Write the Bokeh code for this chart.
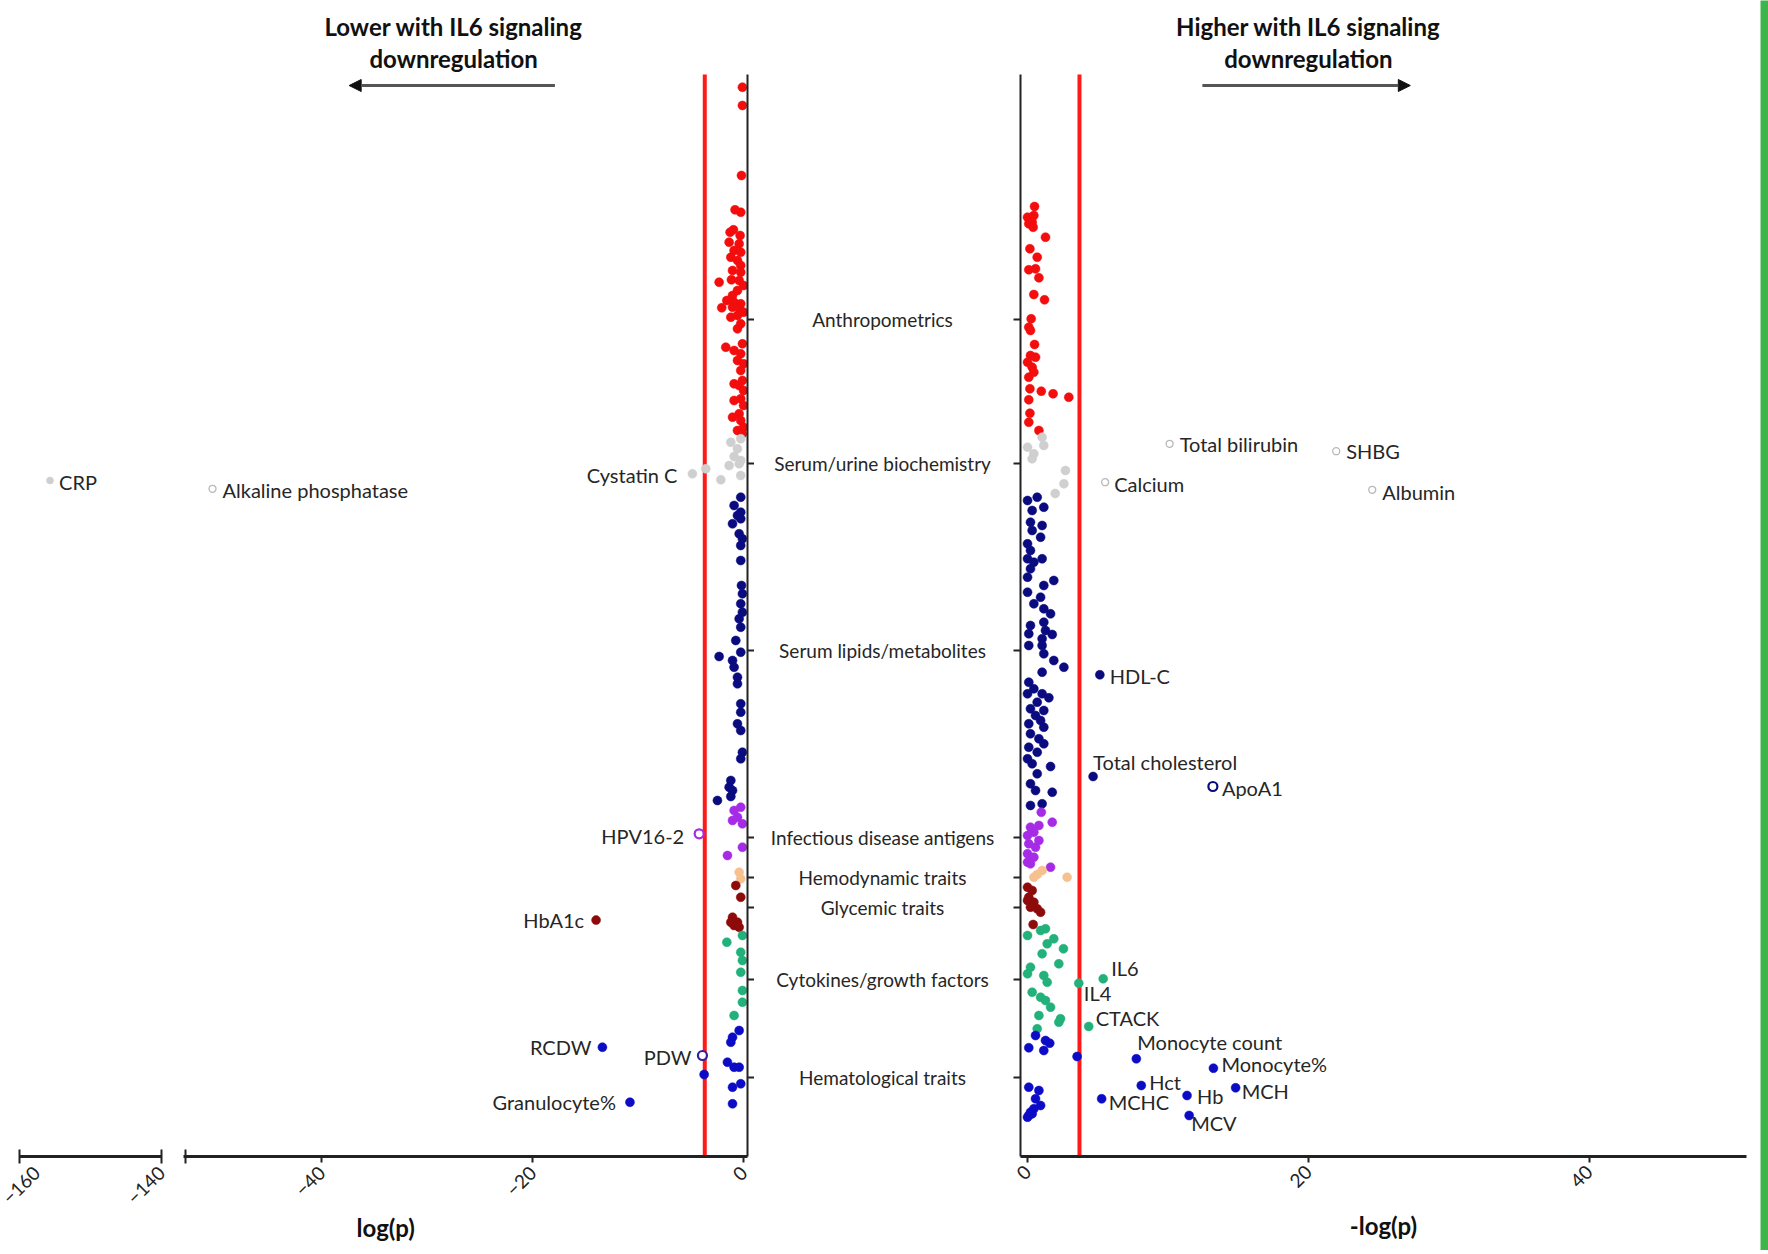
import math
from bokeh.plotting import figure
from bokeh.models import Range1d, FixedTicker, LinearAxis, Label, Arrow, NormalHead, ColumnDataSource, Title
from bokeh.layouts import row
from bokeh.embed import file_html
from bokeh.resources import INLINE
from bokeh.core.properties import value

# ---------------- data ----------------
CATEGORIES = ["Anthropometrics", "Serum/urine biochemistry", "Serum lipids/metabolites",
              "Infectious disease antigens", "Hemodynamic traits", "Glycemic traits",
              "Cytokines/growth factors", "Hematological traits"]
CAT_KEYS = ["anthro", "bio", "lipid", "inf", "hemo", "gly", "cyto", "hema"]
# position of each category tick along the trait-order axis (0 = top)
CATEGORY_POS = [245, 389, 576, 763, 803, 833, 905, 1003]

THRESHOLD = 3.7          # significance threshold, -log10(p)
ORDER_TOP, ORDER_BOTTOM = 0, 1082
HEADER_TOP = -74

# left panel: log(p) of traits lower with IL6 signalling downregulation
anthro_left_logp = [-0.13, -0.13, -0.22, -0.29, -0.83, -1.30, -0.98, -0.35, -1.39, -0.44, -0.92, -0.29, -1.23, -0.60,
                    -0.29, -1.07, -0.29, -2.34, -1.17, -0.44, -0.02, -0.60, -1.07, -1.61, -0.92, -0.29, -2.09, -1.07,
                    -0.35, -0.02, -0.60, -1.23, -0.29, -0.60, -1.71, -0.92, -0.13, -0.29, -0.60, -0.02, -0.29, -0.13,
                    -0.92, -0.44, -0.02, -0.29, -0.92, -0.02, -0.44, -1.07, -0.29, -0.02, -0.60, -0.13]
anthro_left_pos = [12.7, 31, 101, 137.7, 135.3, 157.7, 155.3, 161, 167.7, 169.3, 176, 177.7, 182.7, 186, 191, 196,
                   197.7, 207.7, 205.3, 206, 211, 216, 221, 226, 227.7, 229.3, 233.3, 232.7, 235.3, 237.7, 241, 242.7,
                   249.3, 254.3, 272.7, 276, 269.3, 279.3, 286, 289.3, 296, 306, 309.3, 311, 316, 324.3, 326, 331,
                   339.3, 342.7, 346, 352.7, 356, 359.3]
bio_left_logp = [-1.23, -0.29, -0.60, -0.92, -0.29, -1.39, -0.44, -0.29, -2.18, -3.60]
bio_left_pos = [367.7, 364.3, 374.3, 382, 386, 391, 389.3, 401, 405.3, 394.3]
lipid_left_logp = [-0.29, -0.92, -0.29, -0.60, -1.07, -0.29, -0.44, -0.13, -0.29, -0.29, -0.22, -0.13, -0.29, -0.13,
                   -0.44, -0.29, -0.76, -0.29, -2.34, -1.07, -0.92, -0.60, -0.60, -0.29, -0.29, -0.60, -0.29, -0.13,
                   -0.29, -1.23, -1.39, -1.07, -2.50, -1.23]
lipid_left_pos = [422.7, 431, 437.7, 441, 449.3, 444.3, 459.3, 464.3, 471, 486, 511, 519.3, 529.3, 537.7, 544.3,
                  552.7, 566, 577.7, 582, 586, 592.7, 602.7, 609.3, 629.3, 637.7, 649.3, 656, 677.7, 684.3, 706,
                  712.7, 716, 726, 722]
inf_left_logp = [-0.92, -0.29, -0.60, -0.13, -1.07, -0.13, -1.55]
inf_left_pos = [736, 732.7, 742.7, 749.3, 746, 772.7, 781]
hemo_left_logp = [-0.44, -0.29]
hemo_left_pos = [797.7, 804.3]
gly_left_logp = [-0.76, -0.29, -1.07, -0.60, -0.92, -0.44, -1.23]
gly_left_pos = [811, 822.7, 842.7, 847.7, 851, 852.7, 847.7]
cyto_left_logp = [-0.13, -1.61, -0.29, -0.13, -0.29, -0.13, -0.13, -0.92]
cyto_left_pos = [861, 867.7, 877.7, 886, 897.7, 916, 927.7, 941]
hema_left_logp = [-0.44, -1.07, -1.23, -1.55, -0.92, -0.44, -0.29, -1.07, -1.07, -3.76]
hema_left_pos = [956, 962.7, 967.7, 987.7, 992.7, 992.7, 1009.3, 1012.7, 1029.3, 1000]

# right panel: -log(p) of traits higher with IL6 signalling downregulation
anthro_right_mlogp = [0.50, 0.0, 0.21, 0.45, 0.09, 0.33, 0.40, 1.28, 0.17, 0.69, 0.09, 0.57, 0.81, 0.45, 1.21, 0.26,
                      0.09, 0.21, 0.50, 0.21, 0.57, 0.0, 0.33, 0.45, 0.09, 0.17, 0.98, 1.82, 2.94, 0.09, 0.17, 0.09,
                      0.81]
anthro_right_pos = [132, 142.7, 144.3, 141, 149.3, 147.7, 152.7, 162.7, 174.3, 182.7, 195.3, 194.3, 203.3, 220,
                    225.3, 244.3, 252.7, 256, 270, 281, 282.7, 287.7, 292.7, 297.7, 302.7, 314.3, 316.7, 319.3,
                    322.7, 325.3, 338.7, 347.7, 356]
bio_right_mlogp = [0.0, 0.45, 1.16, 1.04, 0.33, 2.70, 2.59, 1.97]
bio_right_pos = [372.7, 379.3, 371, 362.7, 384.3, 396, 409.3, 419]
lipid_right_mlogp = [0.0, 0.69, 1.16, 0.33, 0.21, 1.04, 0.33, 0.93, 0.0, 0.21, 1.04, 0.0, 0.45, 0.21, 0.0, 1.87,
                     1.16, 0.0, 0.93, 0.45, 1.16, 1.64, 0.21, 1.16, 1.28, 0.09, 1.76, 1.04, 0.09, 1.04, 1.16, 1.87,
                     2.59, 1.04, 0.09, 0.45, 0.0, 1.04, 1.52, 0.69, 0.21, 1.16, 0.57, 0.93, 0.09, 1.16, 0.21, 0.81,
                     1.16, 0.09, 0.69, 0.0, 0.33, 1.64, 0.69, 0.21, 0.57, 1.76, 0.21, 1.04]
lipid_right_pos = [426, 422.7, 432.7, 436, 447.7, 451, 456, 462.7, 469.3, 476, 484.3, 484.3, 487.7, 494.3, 502.7,
                   506, 511, 517.7, 522.7, 529.3, 534.3, 539.3, 551, 547.7, 556, 559.3, 560, 564.3, 571, 571, 579.3,
                   586, 592.7, 597.7, 607.7, 614.3, 619.3, 619.3, 623.3, 627.7, 634.3, 636, 641, 646, 649.3, 652.7,
                   659.3, 664.3, 669.3, 672.7, 677.7, 684.3, 689.3, 692, 699.3, 709.3, 716, 717.7, 731, 729.3]
inf_right_mlogp = [0.98, 1.76, 0.21, 0.81, 0.45, 0.0, 0.81, 0.09, 0.57, 0.0, 0.45, 0.0, 0.21, 1.64]
inf_right_pos = [737.7, 747.7, 752.7, 751, 757.7, 761, 766, 769.3, 772.7, 779.3, 782.7, 787.7, 789.3, 792.7]
hemo_right_mlogp = [0.45, 1.04, 2.82, 0.69]
hemo_right_pos = [802.7, 796, 802.7, 800]
gly_right_mlogp = [0.0, 0.33, 0.09, 0.0, 0.45, 0.69, 0.93, 0.21, 0.40]
gly_right_pos = [812.7, 816, 822.7, 826, 827.7, 834.3, 837.7, 832.7, 850]
cyto_right_mlogp = [0.0, 0.93, 1.28, 1.40, 1.87, 2.56, 1.04, 2.23, 0.21, 0.0, 1.16, 1.40, 0.33, 0.93, 1.28, 1.64,
                    0.81, 2.35, 2.23, 0.69]
cyto_right_pos = [861, 856, 854.3, 869.3, 864.3, 874.3, 879.3, 889.3, 892.7, 899.3, 901, 907.7, 917.7, 922.7, 926,
                  932.7, 941, 944.3, 947.7, 954.3]
hema_right_mlogp = [0.57, 1.28, 1.58, 0.09, 1.16, 3.53, 0.09, 0.81, 0.57, 0.93, 0.45, 0.21, 0.0, 0.09, 0.33]
hema_right_pos = [961, 966, 968.7, 973.3, 976, 982, 1012.7, 1016, 1024.3, 1031, 1034.3, 1037.7, 1042.7, 1041, 1039.3]

# labelled traits
LABELED_NAMES = ["CRP", "Alkaline phosphatase", "Cystatin C", "HPV16-2", "HbA1c", "RCDW", "PDW", "Granulocyte%",
                 "Total bilirubin", "SHBG", "Calcium", "Albumin", "HDL-C", "Total cholesterol", "ApoA1",
                 "IL6", "IL4", "CTACK", "Monocyte count", "Monocyte%", "Hct", "MCH", "Hb", "MCHC", "MCV"]
LABELED_PANEL = ["break", "left", "left", "left", "left", "left", "left", "left",
                 "right", "right", "right", "right", "right", "right", "right",
                 "right", "right", "right", "right", "right", "right", "right", "right", "right", "right"]
LABELED_CAT = ["bio", "bio", "bio", "inf", "gly", "hema", "hema", "hema",
               "bio", "bio", "bio", "bio", "lipid", "lipid", "lipid",
               "cyto", "cyto", "cyto", "hema", "hema", "hema", "hema", "hema", "hema", "hema"]
LABELED_VALUE = [-155.7, -50.35, -4.87, -4.23, -14.0, -13.4, -3.92, -10.79,
                 10.12, 21.98, 5.53, 24.55, 5.15, 4.67, 13.2,
                 5.39, 3.65, 4.36, 7.75, 13.24, 8.1, 14.82, 11.36, 5.28, 11.51]
LABELED_POS = [406, 414.3, 399.3, 759.3, 845.6, 972.7, 981, 1027.7,
               369.3, 376.7, 407.7, 415.3, 600.3, 702, 712,
               904.3, 908.7, 952, 984.3, 993.7, 1011, 1013.3, 1021, 1024.3, 1041]
LABELED_OPEN = [False, True, False, True, False, False, True, False,
                True, True, True, True, False, False, True,
                False, False, False, False, False, False, False, False, False, False]

# ---------------- styles ----------------
CAT_COLORS = {"anthro": "#f30d0d", "bio": "#cfcfcf", "lipid": "#0b0b80", "inf": "#a62be6",
              "hemo": "#f7c18f", "gly": "#8e0b0b", "cyto": "#22b07b", "hema": "#0c0cc6"}
OPEN_COLORS = {"bio": "#b8b8b8", "inf": "#a62be6", "hema": "#34209a", "lipid": "#0b0b80"}
# text label placement: (align, x offset px, y offset px)
LABEL_STYLE = {
    "CRP": ("left", 9, 1), "Alkaline phosphatase": ("left", 10, 1), "Cystatin C": ("right", -15, 1),
    "HPV16-2": ("right", -15, 2), "HbA1c": ("right", -12, 0), "RCDW": ("right", -11, 0),
    "PDW": ("right", -11, 1), "Granulocyte%": ("right", -14, 0),
    "Total bilirubin": ("left", 10, 0), "SHBG": ("left", 10, 0), "Calcium": ("left", 9, 2),
    "Albumin": ("left", 10, 2), "HDL-C": ("left", 10, 1), "Total cholesterol": ("left", 0, -15),
    "ApoA1": ("left", 9, 1), "IL6": ("left", 8, -11), "IL4": ("left", 5, 10), "CTACK": ("left", 7, -9),
    "Monocyte count": ("left", 1, -17), "Monocyte%": ("left", 8, -4), "Hct": ("left", 8, -4),
    "MCH": ("left", 6, 3), "Hb": ("left", 10, 0), "MCHC": ("left", 7, 3), "MCV": ("left", 2, 7),
}
FONT = "Lato"
AXIS_COLOR = "#222222"
TEXT_COLOR = "#262626"
FRAME_H = 1156
BOTTOM_BORDER = 94

y_range = Range1d(ORDER_BOTTOM, HEADER_TOP)


def base_fig(frame_w, xr, mbl, mbr, with_x_axis=True):
    p = figure(frame_width=frame_w, frame_height=FRAME_H, x_range=Range1d(*xr), y_range=y_range, title=None,
               output_backend="svg", toolbar_location=None,
               x_axis_location="below" if with_x_axis else None, y_axis_location=None,
               min_border_left=mbl, min_border_right=mbr, min_border_top=0,
               min_border_bottom=BOTTOM_BORDER, outline_line_color=None,
               background_fill_color="white", border_fill_color="white")
    p.grid.visible = False
    if with_x_axis:
        ax = p.xaxis[0]
        ax.axis_line_width = 3
        ax.axis_line_color = AXIS_COLOR
        ax.major_tick_line_width = 2
        ax.major_tick_line_color = AXIS_COLOR
        ax.minor_tick_line_width = 2
        ax.minor_tick_line_color = AXIS_COLOR
        ax.major_tick_in = 0
        ax.major_tick_out = 6
        ax.minor_tick_in = 0
        ax.minor_tick_out = 0
        ax.major_label_orientation = math.pi / 4
        ax.major_label_text_font = FONT
        ax.major_label_text_font_size = "19px"
        ax.major_label_text_color = AXIS_COLOR
        ax.major_label_standoff = 6
    return p


def category_axis():
    return LinearAxis(ticker=FixedTicker(ticks=CATEGORY_POS), bounds=(ORDER_TOP, ORDER_BOTTOM),
                      major_tick_in=0, major_tick_out=7, minor_tick_in=0, minor_tick_out=0,
                      major_label_overrides={t: "" for t in CATEGORY_POS}, major_label_standoff=0,
                      axis_line_width=2, axis_line_color=AXIS_COLOR,
                      major_tick_line_width=2, major_tick_line_color=AXIS_COLOR)


# broken-axis segment (far left)
pA = base_fig(142, (-160, -140), 19, 22)
pA.xaxis.ticker = FixedTicker(ticks=[-160, -140])
pA.xaxis.major_tick_in = 7
pA.xaxis.major_tick_out = 7

# left main panel
pB = base_fig(564, (-53.1, 0.35), 0, 0)
pB.xaxis.ticker = FixedTicker(ticks=[-40, -20, 0], minor_ticks=[-52.95])
pB.xaxis.minor_tick_in = 7
pB.xaxis.minor_tick_out = 7
pB.add_layout(category_axis(), "right")
# axis title centred under the whole (broken) left axis
pB.add_layout(Title(text="log(p)", align="left", offset=173, standoff=10, text_font=FONT,
                    text_font_style="bold", text_font_size="24px", text_color="#111111"), "below")

# middle band with category labels
pM = base_fig(252, (0, 1), 2, 0, with_x_axis=False)
pM.text(x=[0.5] * len(CATEGORIES), y=CATEGORY_POS, text=CATEGORIES, text_align="center",
        text_baseline="middle", text_font=value(FONT), text_font_size="19px", text_color=TEXT_COLOR)

# right panel
pC = base_fig(726, (-0.5, 51.2), 12, 14)
pC.add_layout(category_axis(), "left")
pC.xaxis.ticker = FixedTicker(ticks=[0, 20, 40])
pC.xaxis.axis_label = "-log(p)"
pC.xaxis.axis_label_text_font = FONT
pC.xaxis.axis_label_text_font_style = "bold"
pC.xaxis.axis_label_text_font_size = "24px"
pC.xaxis.axis_label_text_color = "#111111"
pC.xaxis.axis_label_standoff = 14

# green edge strip seen at the right border of the reference image
pG = figure(frame_width=8, frame_height=FRAME_H + BOTTOM_BORDER, title=None, output_backend="svg",
            toolbar_location=None, x_axis_location=None, y_axis_location=None, min_border=0,
            outline_line_color=None, background_fill_color="#3db54a", border_fill_color="#3db54a")
pG.grid.visible = False

# threshold lines
pB.segment(x0=[-THRESHOLD], y0=[ORDER_TOP], x1=[-THRESHOLD], y1=[ORDER_BOTTOM], line_color="#ff1a1a", line_width=4)
pC.segment(x0=[THRESHOLD], y0=[ORDER_TOP], x1=[THRESHOLD], y1=[ORDER_BOTTOM], line_color="#ff1a1a", line_width=4)

left_series = {"anthro": (anthro_left_logp, anthro_left_pos), "bio": (bio_left_logp, bio_left_pos),
               "lipid": (lipid_left_logp, lipid_left_pos), "inf": (inf_left_logp, inf_left_pos),
               "hemo": (hemo_left_logp, hemo_left_pos), "gly": (gly_left_logp, gly_left_pos),
               "cyto": (cyto_left_logp, cyto_left_pos), "hema": (hema_left_logp, hema_left_pos)}
right_series = {"anthro": (anthro_right_mlogp, anthro_right_pos), "bio": (bio_right_mlogp, bio_right_pos),
                "lipid": (lipid_right_mlogp, lipid_right_pos), "inf": (inf_right_mlogp, inf_right_pos),
                "hemo": (hemo_right_mlogp, hemo_right_pos), "gly": (gly_right_mlogp, gly_right_pos),
                "cyto": (cyto_right_mlogp, cyto_right_pos), "hema": (hema_right_mlogp, hema_right_pos)}

for key in CAT_KEYS:
    for fig, series in ((pB, left_series), (pC, right_series)):
        xs, ys = series[key]
        fig.scatter(x=xs, y=ys, size=9, fill_color=CAT_COLORS[key], line_color=CAT_COLORS[key], line_width=0.5)

panels = {"break": pA, "left": pB, "right": pC}
label_data = {k: {"x": [], "y": [], "text": [], "align": [], "dx": [], "dy": []} for k in panels}
for name, panel, cat, val, pos, is_open in zip(LABELED_NAMES, LABELED_PANEL, LABELED_CAT, LABELED_VALUE,
                                               LABELED_POS, LABELED_OPEN):
    fig = panels[panel]
    if is_open:
        col = OPEN_COLORS[cat]
        if cat == "bio":
            fig.scatter(x=[val], y=[pos], size=7, fill_color="white", line_color=col, line_width=1.3)
        else:
            fig.scatter(x=[val], y=[pos], size=9, fill_color="white", line_color=col, line_width=2.2)
    else:
        size = 7 if name == "CRP" else 9
        fig.scatter(x=[val], y=[pos], size=size, fill_color=CAT_COLORS[cat], line_color=CAT_COLORS[cat],
                    line_width=0.5)
    align, dx, dy = LABEL_STYLE[name]
    d = label_data[panel]
    d["x"].append(val); d["y"].append(pos); d["text"].append(name)
    d["align"].append(align); d["dx"].append(dx); d["dy"].append(dy)

for panel, fig in panels.items():
    src = ColumnDataSource(label_data[panel])
    fig.text(x="x", y="y", text="text", text_align="align", x_offset="dx", y_offset="dy", source=src,
             text_baseline="middle", text_font=value(FONT), text_font_size="20px", text_color=TEXT_COLOR)

# headers and arrows
LEFT_HEADER = ["Lower with IL6 signaling", "downregulation"]
RIGHT_HEADER = ["Higher with IL6 signaling", "downregulation"]
HEADER_ROWS = [-48, -16]
LEFT_HEADER_X = -27.5
RIGHT_HEADER_X = 20.0
ARROW_ROW = 11
LEFT_ARROW = (-17.9, -37.4)
RIGHT_ARROW = (12.45, 27.26)

for fig, lines, xc in ((pB, LEFT_HEADER, LEFT_HEADER_X), (pC, RIGHT_HEADER, RIGHT_HEADER_X)):
    for txt, yy in zip(lines, HEADER_ROWS):
        fig.add_layout(Label(x=xc, y=yy, text=txt, text_align="center", text_baseline="middle",
                             text_font=FONT, text_font_style="bold", text_font_size="24px",
                             text_color="#111111"))

for fig, (xs0, xs1) in ((pB, LEFT_ARROW), (pC, RIGHT_ARROW)):
    fig.add_layout(Arrow(end=NormalHead(size=12, fill_color="#111111", line_color="#111111"),
                         x_start=xs0, y_start=ARROW_ROW, x_end=xs1, y_end=ARROW_ROW,
                         line_color="#555555", line_width=3))

layout = row(pA, pB, pM, pC, pG)
open("out.html", "w").write(file_html(layout, INLINE))
